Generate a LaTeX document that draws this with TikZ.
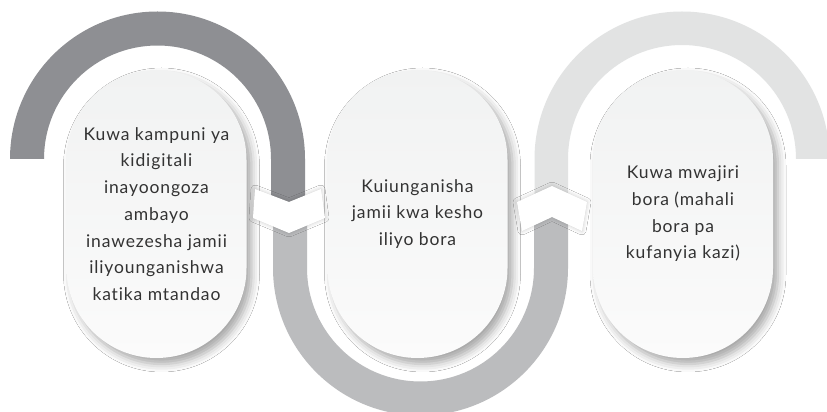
\documentclass[tikz,border=0pt]{standalone}
\usepackage{fontspec}
\setmainfont{Lato}[LetterSpace=5, Ligatures={NoCommon,NoDiscretionary}]
\usetikzlibrary{shadows.blur}
\definecolor{darkarc}{HTML}{8E8F93}
\definecolor{midarc}{HTML}{BBBCBE}
\definecolor{lightarc}{HTML}{E2E3E3}
\definecolor{txt}{HTML}{333333}
\definecolor{pilltop}{HTML}{F1F2F2}
\definecolor{pillbot}{HTML}{FBFBFB}
\begin{document}
\begin{tikzpicture}[x=1pt,y=1pt,
  pill/.style={minimum width=180pt, minimum height=288pt, rounded corners=89.9pt,
    inner sep=0pt, top color=pilltop, bottom color=pillbot,
    blur shadow={shadow xshift=5pt, shadow yshift=-6pt, shadow blur radius=8pt, shadow opacity=35},
    align=center, text=txt, font=\fontsize{17.5}{26.7}\selectfont},
  chev/.style={fill=white, blur shadow={shadow xshift=0pt, shadow yshift=0pt, shadow blur radius=4pt, shadow opacity=22}}]
\useasboundingbox (0,0) rectangle (827,412);
\clip (0,0) rectangle (827,412);
\fill[white] (0,0) rectangle (827,412);
% arcs
\fill[darkarc] (10,253) arc[start angle=180, end angle=0, radius=147.5pt] -- (305,198) -- (271,198) -- (271,253) arc[start angle=0, end angle=180, radius=113.5pt] -- cycle;
\fill[midarc] (273,198) -- (273,144) arc[start angle=180, end angle=360, radius=147.5pt] -- (568,205) -- (534,205) -- (534,144) arc[start angle=360, end angle=180, radius=113.5pt] -- (307,198) -- cycle;
\fill[lightarc] (534.5,205) -- (534.5,253) arc[start angle=180, end angle=0, radius=147.5pt] -- (796,253) arc[start angle=0, end angle=180, radius=114pt] -- (568,205) -- cycle;
% pills
\node[pill] (p1) at (156.5,198) {Kuwa kampuni ya\\kidigitali\\inayoongoza\\ambayo\\inawezesha jamii\\iliyounganishwa\\katika mtandao};
\node[pill] (p2) at (417.5,198) {Kuiunganisha\\jamii kwa kesho\\iliyo bora};
\node[pill] (p3) at (683,198) {Kuwa mwajiri\\bora (mahali\\bora pa\\kufanyia kazi)};
% chevrons
\path[chev] (255,223) -- (289,210) -- (321,223) -- (325,194) -- (289,179) -- (253,194) -- cycle;
\path[chev] (517,210) -- (552,226) -- (587,210) -- (582,181) -- (552,195) -- (522,181) -- cycle;
\end{tikzpicture}
\end{document}
